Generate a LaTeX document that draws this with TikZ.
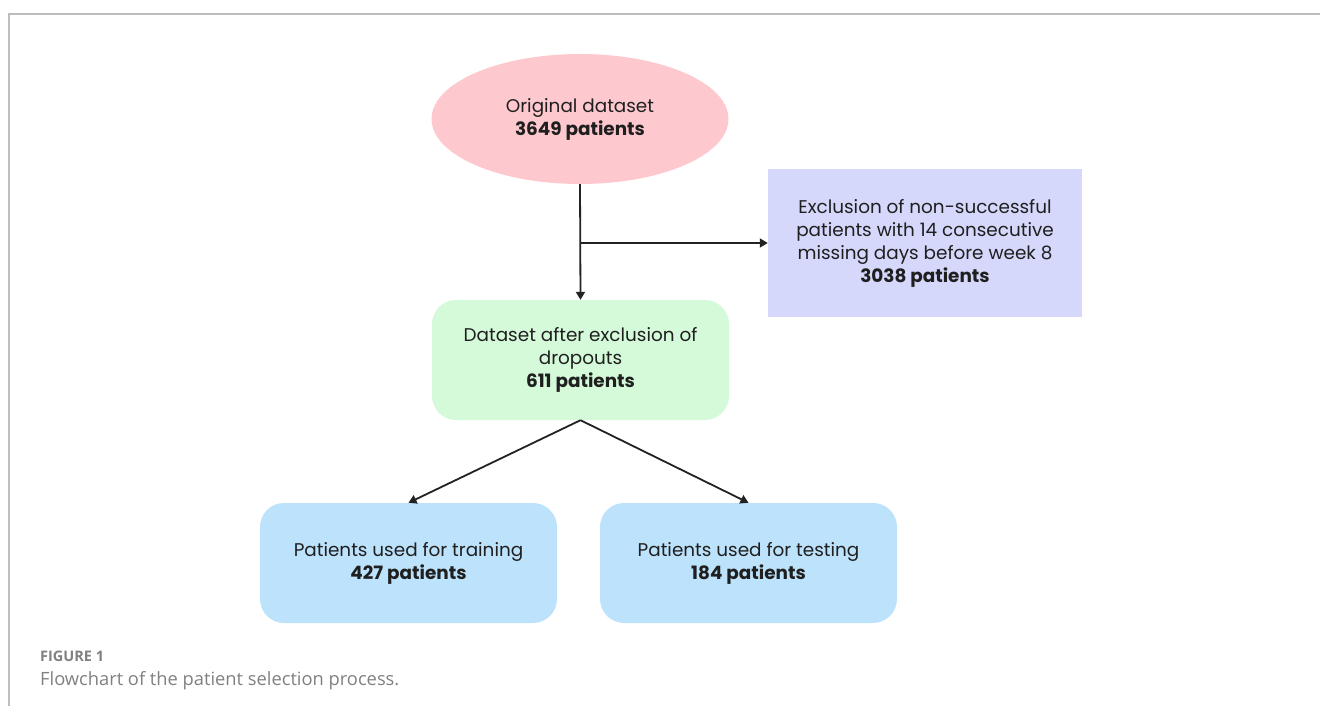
\documentclass[tikz,border=0pt]{standalone}
\usepackage{fontspec}
\setmainfont{Poppins}
\newfontfamily\capfont{Open Sans}
\usetikzlibrary{shapes.geometric,arrows.meta}
\definecolor{pinkfill}{HTML}{FDC9CF}
\definecolor{lavfill}{HTML}{D5D8FB}
\definecolor{greenfill}{HTML}{D4FAD9}
\definecolor{bluefill}{HTML}{BDE2FB}
\definecolor{linecol}{HTML}{222222}
\definecolor{framecol}{HTML}{BDBDBD}
\definecolor{capcol}{HTML}{808080}
\tikzset{
  x=1pt,y=-1pt,
  txt/.style={align=center,font=\fontsize{18.4}{23}\selectfont,text=black!88},
  roundbox/.style={txt,rounded corners=24pt,minimum width=297pt,minimum height=120pt,inner sep=0pt},
  conn/.style={draw=linecol,line width=1.8pt,-{Triangle[length=8pt,width=9pt]}},
}
\begin{document}
\begin{tikzpicture}
\useasboundingbox (0,0) rectangle (1320,706);
\draw[framecol,line width=1.5pt] (9,706) -- (9,14) -- (1320,14);
\node[txt,ellipse,fill=pinkfill,minimum width=297pt,minimum height=130pt,inner sep=0pt] (orig) at (580,119) {Original dataset\\\textbf{3649 patients}};
\node[txt,fill=lavfill,minimum width=314pt,minimum height=148pt,inner sep=0pt] (excl) at (925,243) {Exclusion of non-successful\\patients with 14 consecutive\\missing days before week 8\\\textbf{3038 patients}};
\node[roundbox,fill=greenfill] (drop) at (580.5,360) {Dataset after exclusion of\\dropouts\\\textbf{611 patients}};
\node[roundbox,fill=bluefill] (train) at (408.5,563) {Patients used for training\\\textbf{427 patients}};
\node[roundbox,fill=bluefill] (test) at (748.5,563) {Patients used for testing\\\textbf{184 patients}};
\coordinate (split) at (580,243);
\draw[conn] (orig.south) -- (drop.north);
\draw[conn] (split) -- (excl.west);
\draw[conn] (drop.south) -- (train.north);
\draw[conn] (drop.south) -- (test.north);
\node[anchor=base west,inner sep=0pt,text=capcol,font=\capfont\fontsize{14.5}{16}\selectfont\bfseries] (fig) at (40,661) {FIGURE 1};
\node[anchor=base west,inner sep=0pt,text=capcol,font=\capfont\fontsize{18.3}{20}\selectfont] (cap) at (40,685) {Flowchart of the patient selection process.};
\end{tikzpicture}
\end{document}
